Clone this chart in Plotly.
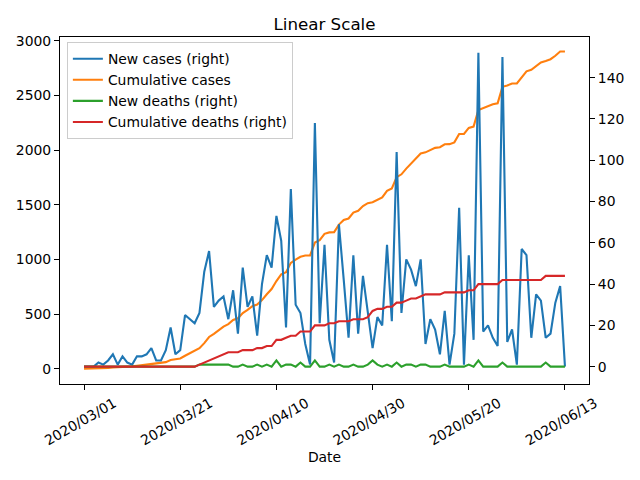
import pandas as pd
import plotly.graph_objects as go

# Categories: reporting dates (daily until 05/20, a few days missing afterwards)
dates = pd.date_range("2020-03-01", "2020-05-20").strftime("%Y/%m/%d").tolist() + [
    "2020/05/21", "2020/05/22", "2020/05/23", "2020/05/25", "2020/05/26",
    "2020/05/27", "2020/05/28", "2020/05/29", "2020/05/30", "2020/06/01",
    "2020/06/02", "2020/06/03", "2020/06/04", "2020/06/05", "2020/06/06",
    "2020/06/08", "2020/06/09", "2020/06/10", "2020/06/12", "2020/06/13",
]

new_cases = [
    0, 0, 0, 2, 1, 3, 6, 1, 5, 2,
    1, 5, 5, 6, 9, 3, 3, 8, 19, 6,
    8, 25, 23, 21, 26, 46, 56, 29, 32, 34,
    23, 37, 16, 48, 29, 34, 15, 40, 54, 48,
    73, 61, 19, 86, 30, 26, 11, 1, 118, 21,
    59, 13, 2, 69, 42, 14, 54, 16, 44, 26,
    9, 24, 20, 59, 22, 104, 26, 52, 47, 39,
    52, 11, 23, 18, 6, 27, 1, 16, 77, 1,
    54, 13, 152, 17, 20, 14, 10, 150, 12, 18,
    1, 57, 54, 14, 35, 32, 14, 16, 31, 39,
    0,
]

cumulative_cases = [
    0, 0, 0, 2, 3, 6, 12, 13, 18, 20,
    21, 26, 31, 37, 46, 49, 52, 60, 79, 85,
    93, 118, 141, 162, 188, 234, 290, 319, 351, 385,
    408, 445, 461, 509, 538, 572, 587, 627, 681, 729,
    802, 863, 882, 968, 998, 1024, 1035, 1036, 1154, 1175,
    1234, 1247, 1249, 1318, 1360, 1374, 1428, 1444, 1488, 1514,
    1523, 1547, 1567, 1626, 1648, 1752, 1778, 1830, 1877, 1916,
    1968, 1979, 2002, 2020, 2026, 2053, 2054, 2070, 2147, 2148,
    2202, 2215, 2367, 2384, 2404, 2418, 2428, 2578, 2590, 2608,
    2609, 2666, 2720, 2734, 2769, 2801, 2815, 2831, 2862, 2901,
    2901,
]

new_deaths = [
    0, 0, 0, 0, 0, 0, 0, 0, 0, 0,
    0, 0, 0, 0, 0, 0, 0, 0, 0, 0,
    0, 0, 0, 0, 1, 1, 1, 1, 1, 1,
    1, 0, 0, 1, 0, 0, 1, 0, 1, 0,
    3, 0, 1, 1, 0, 2, 0, 0, 3, 0,
    0, 1, 0, 1, 0, 0, 1, 0, 0, 1,
    3, 1, 0, 1, 0, 2, 0, 1, 1, 0,
    1, 1, 0, 0, 0, 1, 0, 0, 0, 0,
    1, 0, 3, 0, 0, 0, 0, 2, 0, 0,
    0, 0, 0, 0, 0, 0, 2, 0, 0, 0,
    0,
]

cumulative_deaths = [
    0, 0, 0, 0, 0, 0, 0, 0, 0, 0,
    0, 0, 0, 0, 0, 0, 0, 0, 0, 0,
    0, 0, 0, 0, 1, 2, 3, 4, 5, 6,
    7, 7, 7, 8, 8, 8, 9, 9, 10, 10,
    13, 13, 14, 15, 15, 17, 17, 17, 20, 20,
    20, 21, 21, 22, 22, 22, 23, 23, 23, 24,
    27, 28, 28, 29, 29, 31, 31, 32, 33, 33,
    34, 35, 35, 35, 35, 36, 36, 36, 36, 36,
    37, 37, 40, 40, 40, 40, 40, 42, 42, 42,
    42, 42, 42, 42, 42, 42, 44, 44, 44, 44,
    44,
]

tick_dates = ["2020/03/01", "2020/03/21", "2020/04/10", "2020/04/30", "2020/05/20", "2020/06/13"]
left_ticks = [0, 500, 1000, 1500, 2000, 2500, 3000]
right_ticks = [0, 20, 40, 60, 80, 100, 120, 140]

FONT = "DejaVu Sans"
FS = 13.9
LW = 2.1

fig = go.Figure()
fig.add_trace(go.Scatter(x=dates, y=new_cases, name="New cases (right)", mode="lines",
                         line=dict(color="#1f77b4", width=LW), yaxis="y2"))
fig.add_trace(go.Scatter(x=dates, y=cumulative_cases, name="Cumulative cases", mode="lines",
                         line=dict(color="#ff7f0e", width=LW), yaxis="y"))
fig.add_trace(go.Scatter(x=dates, y=new_deaths, name="New deaths (right)", mode="lines",
                         line=dict(color="#2ca02c", width=LW), yaxis="y2"))
fig.add_trace(go.Scatter(x=dates, y=cumulative_deaths, name="Cumulative deaths (right)", mode="lines",
                         line=dict(color="#d62728", width=LW), yaxis="y2"))

axis_common = dict(showgrid=False, zeroline=False, showline=True, linecolor="black", linewidth=1.1,
                   ticks="outside", ticklen=5, tickwidth=1.1, tickcolor="black", automargin=False,
                   tickfont=dict(family=FONT, size=FS, color="black"))

fig.update_layout(
    width=640, height=480,
    margin=dict(l=60, r=51, t=37, b=96, autoexpand=False),
    paper_bgcolor="white", plot_bgcolor="white",
    font=dict(family=FONT, size=FS, color="black"),
    title=dict(text="Linear Scale", x=0.5, xanchor="center", xref="paper",
               y=1, yref="paper", yanchor="bottom", pad=dict(b=7), automargin=False,
               font=dict(family=FONT, size=16.7, color="black")),
    xaxis=dict(type="category", range=[-5, 105], tickmode="array", tickvals=tick_dates,
               ticktext=tick_dates, tickangle=-30, ticklabelshift=30, mirror=True,
               title=dict(text="Date", standoff=4, font=dict(family=FONT, size=FS, color="black")),
               **axis_common),
    yaxis=dict(range=[-140, 3034], tickmode="array", tickvals=left_ticks, **axis_common),
    yaxis2=dict(range=[-8.4, 159.7], tickmode="array", tickvals=right_ticks,
                overlaying="y", side="right", anchor="x", **axis_common),
    legend=dict(x=0.013, y=0.985, xanchor="left", yanchor="top",
                bgcolor="rgba(255,255,255,0.8)", bordercolor="#cccccc", borderwidth=1,
                font=dict(family=FONT, size=FS, color="black"), tracegroupgap=0),
    showlegend=True,
)

fig.write_html("out.html", config={"displayModeBar": False},
               post_script="document.body.style.margin='0';")
